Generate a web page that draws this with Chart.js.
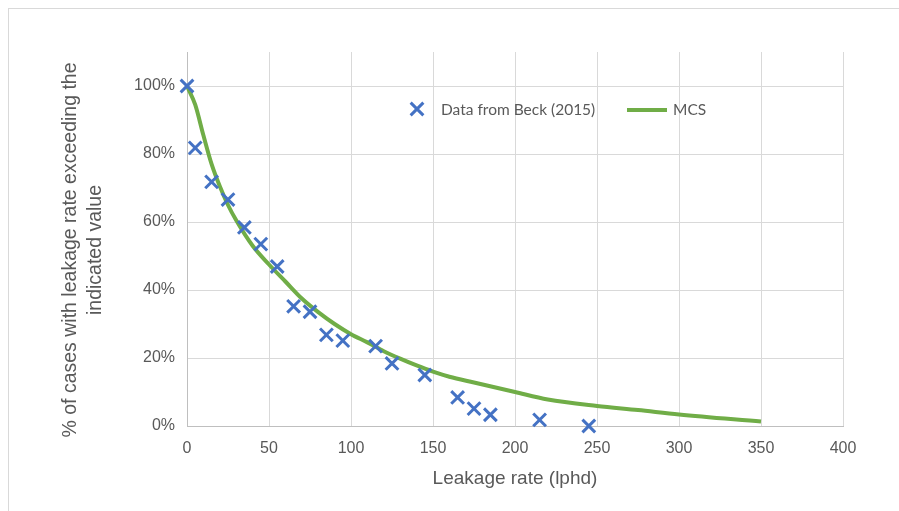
<!DOCTYPE html>
<html>
<head>
<meta charset="utf-8">
<script src="https://cdn.jsdelivr.net/npm/chart.js@4.4.0/dist/chart.umd.min.js"></script>
<style>
  body { margin: 0; background: #fff; }
  #wrap { position: relative; width: 899px; height: 511px; overflow: hidden; }
  #frame { position: absolute; left: 8px; top: 8px; width: 900px; height: 520px;
           border-left: 1px solid #d9d9d9; border-top: 1px solid #d9d9d9; }
  #chart { position: absolute; left: 0; top: 0; }
</style>
</head>
<body>
<div id="wrap">
  <div id="frame"></div>
  <canvas id="chart" width="899" height="511"></canvas>
</div>
<script>
// Data from Beck (2015) - leakage rate (lphd) vs % of cases exceeding
const beckX = [0, 5, 15, 25, 35, 45, 55, 65, 75, 85, 95, 115, 125, 145, 165, 175, 185, 215, 245];
const beckY = [100, 81.8, 71.8, 66.6, 58.4, 53.5, 46.9, 35.2, 33.6, 26.8, 25.1, 23.5, 18.4, 15, 8.4, 5.1, 3.3, 1.8, 0];

// MCS curve
const mcsX = [0, 5, 10, 15, 20, 25, 30, 40, 50, 60, 70, 80, 90, 100, 110, 120, 130, 140, 150, 160, 175, 200, 220, 250, 275, 300, 350];
const mcsY = [100, 94.5, 85.5, 77, 70.5, 65, 60.5, 53, 47.5, 42.5, 37.5, 33.5, 30, 27, 24.6, 22, 19.8, 17.8, 16, 14.5, 12.8, 10, 7.8, 5.9, 4.7, 3.4, 1.3];

const seriesNames = ['Data from Beck (2015)', 'MCS'];
const xTitle = 'Leakage rate (lphd)';
const yTitle = ['% of cases with leakage rate exceeding the', 'indicated value'];

const blue = '#4472C4';
const green = '#70AD47';
const grey = '#595959';
const gridGrey = '#d9d9d9';

const toPoints = (xs, ys) => xs.map((x, i) => ({ x: x, y: ys[i] }));

// legend drawn inside the plot, like the excel one
const insideLegend = {
  id: 'insideLegend',
  afterDatasetsDraw(chart) {
    const ctx = chart.ctx;
    const area = chart.chartArea;
    const y = area.top + 57;
    const x = area.left + 230;
    ctx.save();
    ctx.strokeStyle = blue;
    ctx.fillStyle = blue;
    Chart.helpers.drawPoint(ctx, { pointStyle: 'crossRot', radius: 9, borderWidth: 3, rotation: 0 }, x, y);
    ctx.font = '15.5px Lato';
    ctx.fillStyle = grey;
    ctx.textBaseline = 'middle';
    ctx.fillText(seriesNames[0], x + 24, y + 1);
    ctx.strokeStyle = green;
    ctx.lineWidth = 4;
    ctx.beginPath();
    ctx.moveTo(x + 210, y + 1);
    ctx.lineTo(x + 250, y + 1);
    ctx.stroke();
    ctx.fillText(seriesNames[1], x + 256, y + 1);
    ctx.restore();
  }
};

// y title, excel centres it a bit lower than the plot middle
const sideTitle = {
  id: 'sideTitle',
  afterDraw(chart) {
    const ctx = chart.ctx;
    const area = chart.chartArea;
    ctx.save();
    ctx.translate(71, (area.top + area.bottom) / 2 + 11);
    ctx.rotate(-Math.PI / 2);
    ctx.font = '19.5px "Liberation Sans"';
    ctx.fillStyle = grey;
    ctx.textAlign = 'center';
    ctx.textBaseline = 'middle';
    yTitle.forEach((line, i) => ctx.fillText(line, 0, i * 25));
    ctx.restore();
  }
};

new Chart(document.getElementById('chart'), {
  type: 'scatter',
  data: {
    datasets: [{
      label: seriesNames[0],
      data: toPoints(beckX, beckY),
      pointStyle: 'crossRot',
      pointRadius: 9,
      pointBorderWidth: 3,
      borderColor: blue,
      backgroundColor: blue,
      clip: false
    }, {
      label: seriesNames[1],
      type: 'line',
      data: toPoints(mcsX, mcsY),
      borderColor: green,
      borderWidth: 4,
      pointRadius: 0,
      cubicInterpolationMode: 'monotone',
      fill: false,
      clip: false
    }]
  },
  options: {
    responsive: false,
    animation: false,
    layout: { padding: { top: 52, right: 56, bottom: 0, left: 0 } },
    plugins: {
      legend: { display: false },
      tooltip: { enabled: false }
    },
    scales: {
      x: {
        type: 'linear',
        min: 0,
        max: 400,
        afterFit: (scale) => { scale.height = 85; },
        ticks: { stepSize: 50, color: grey, padding: 13, font: { family: 'Liberation Sans', size: 16 } },
        grid: { color: gridGrey, drawTicks: false },
        border: { color: '#bfbfbf' },
        title: {
          display: true, text: xTitle, color: grey,
          font: { family: 'Liberation Sans', size: 19, lineHeight: 1.3 },
          padding: { bottom: 20 }
        }
      },
      y: {
        min: 0,
        max: 110,
        afterFit: (scale) => { scale.width = 187; },
        ticks: {
          stepSize: 20, color: grey, padding: 12,
          font: { family: 'Liberation Sans', size: 16 },
          callback: (v) => v > 100 ? '' : v + '%'
        },
        grid: {
          drawTicks: false,
          color: (c) => c.tick && c.tick.value > 100 ? 'rgba(0,0,0,0)' : gridGrey
        },
        border: { color: '#bfbfbf' }
      }
    }
  },
  plugins: [insideLegend, sideTitle]
});
</script>
</body>
</html>
